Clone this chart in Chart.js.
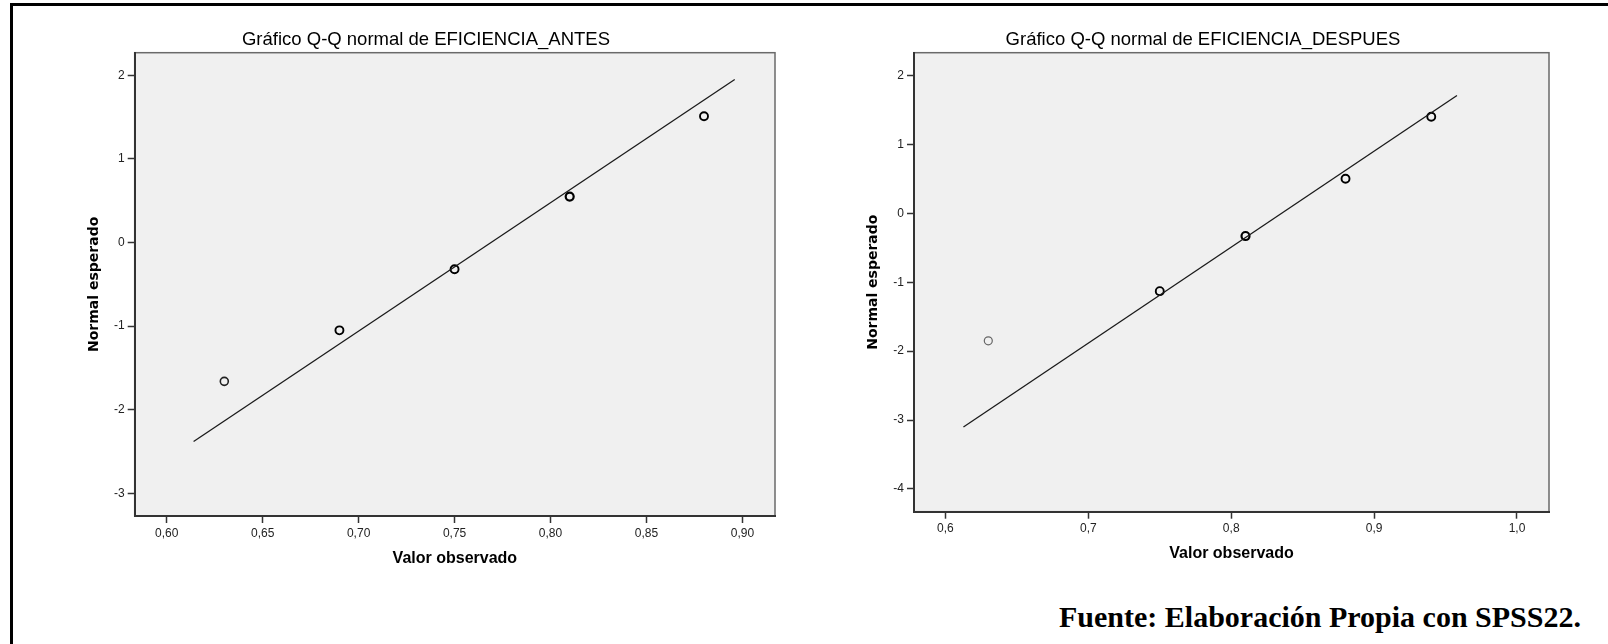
<!DOCTYPE html>
<html>
<head>
<meta charset="utf-8">
<script src="https://cdn.jsdelivr.net/npm/chart.js@4.4.1/dist/chart.umd.min.js"></script>
<style>
    body { margin: 0; background: #fff; width: 1608px; height: 644px; overflow: hidden; position: relative; }
    #marco { position: absolute; left: 10px; top: 3px; width: 1700px; height: 800px; border-top: 3px solid #000; border-left: 3px solid #000; }
    canvas { position: absolute; top: 0; }
    #qqAntes { left: 0; }
    #qqDespues { left: 779px; }
    #fuente { position: absolute; left: 1059px; top: 602px; font: bold 30px 'Liberation Serif', 'Times New Roman', serif; line-height: 30px; white-space: nowrap; color: #000; }
</style>
</head>
<body>
<div id="marco"></div>
<canvas id="qqAntes" width="800" height="600"></canvas>
<canvas id="qqDespues" width="800" height="600"></canvas>
<div id="fuente">Fuente: Elaboración Propia con SPSS22.</div>
<script>
// EFICIENCIA_ANTES
const antesObservado = [0.63, 0.69, 0.75, 0.81, 0.88];
const antesEsperado = [-1.66, -1.05, -0.32, 0.55, 1.51];
const antesRectaX = [0.614, 0.896];
const antesRectaY = [-2.38, 1.95];
const antesTicksX = [0.60, 0.65, 0.70, 0.75, 0.80, 0.85, 0.90];
const antesTicksY = [-3, -2, -1, 0, 1, 2];

// EFICIENCIA_DESPUES
const despuesObservado = [0.63, 0.75, 0.81, 0.88, 0.94];
const despuesEsperado = [-1.85, -1.13, -0.33, 0.50, 1.40];
const despuesRectaX = [0.6126, 0.958];
const despuesRectaY = [-3.10, 1.71];
const despuesTicksX = [0.6, 0.7, 0.8, 0.9, 1.0];
const despuesTicksY = [-4, -3, -2, -1, 0, 1, 2];

Chart.defaults.font.family = "'Liberation Sans', Arial, sans-serif";
Chart.defaults.color = '#222';

// Fondo gris y marco del área de trazado
const fondoPlot = {
    id: 'fondoPlot',
    beforeDraw(chart) {
        const { ctx, chartArea: a } = chart;
        ctx.save();
        ctx.fillStyle = '#f0f0f0';
        ctx.fillRect(a.left, a.top, a.width, a.height);
        ctx.strokeStyle = '#6a6a6a';
        ctx.lineWidth = 1.5;
        ctx.strokeRect(a.left, a.top, a.width, a.height);
        ctx.restore();
    }
};

function qqChart(id, cfg) {
    const ctx = document.getElementById(id).getContext('2d');
    const puntos = cfg.obs.map((x, i) => ({ x: x, y: cfg.esp[i] }));
    const recta = cfg.rectaX.map((x, i) => ({ x: x, y: cfg.rectaY[i] }));

    return new Chart(ctx, {
        type: 'scatter',
        data: {
            datasets: [{
                data: recta,
                showLine: true,
                borderColor: '#1a1a1a',
                borderWidth: 1.3,
                pointRadius: 0
            }, {
                data: puntos,
                pointRadius: 4,
                pointBorderWidth: cfg.grosor,
                pointBorderColor: cfg.colores,
                pointBackgroundColor: 'rgba(0,0,0,0)'
            }]
        },
        options: {
            responsive: false,
            animation: false,
            devicePixelRatio: 1,
            layout: { padding: { left: cfg.padL, right: cfg.padR, top: 0, bottom: cfg.padB } },
            plugins: {
                legend: { display: false },
                tooltip: { enabled: false },
                title: {
                    display: true,
                    text: cfg.titulo,
                    color: '#000',
                    font: { size: 18.5, weight: 'normal' },
                    padding: { top: 28.9, bottom: 1.6 }
                }
            },
            scales: {
                x: {
                    type: 'linear',
                    min: cfg.xMin,
                    max: cfg.xMax,
                    afterBuildTicks: s => { s.ticks = cfg.ticksX.map(v => ({ value: v })); },
                    afterFit: s => { s.height = cfg.altoX; },
                    ticks: {
                        autoSkip: false,
                        maxRotation: 0,
                        padding: 3,
                        font: { size: 12 },
                        callback: v => v.toFixed(cfg.decimales).replace('.', ',')
                    },
                    grid: { drawOnChartArea: false, drawTicks: true, tickLength: 7, tickColor: '#333', tickWidth: 1.5 },
                    border: { display: true, color: '#333', width: 2 },
                    title: {
                        display: true,
                        text: 'Valor observado',
                        color: '#000',
                        font: { size: 16, weight: 'bold' },
                        padding: { top: 0, bottom: 0 }
                    }
                },
                y: {
                    type: 'linear',
                    min: cfg.yMin,
                    max: cfg.yMax,
                    afterBuildTicks: s => { s.ticks = cfg.ticksY.map(v => ({ value: v })); },
                    afterFit: s => { s.width = cfg.anchoY; },
                    ticks: {
                        autoSkip: false,
                        padding: 3,
                        font: { size: 12 },
                        callback: v => String(v)
                    },
                    grid: { drawOnChartArea: false, drawTicks: true, tickLength: 7, tickColor: '#333', tickWidth: 1.5 },
                    border: { display: true, color: '#333', width: 2 },
                    title: {
                        display: true,
                        text: 'Normal esperado',
                        color: '#000',
                        font: { family: "'DejaVu Sans', Verdana, sans-serif", size: 14, weight: 'bold' },
                        padding: { top: cfg.offsetTituloY, bottom: 0 }
                    }
                }
            }
        },
        plugins: [fondoPlot]
    });
}

document.addEventListener('DOMContentLoaded', function () {
    qqChart('qqAntes', {
        titulo: 'Gráfico Q-Q normal de EFICIENCIA_ANTES',
        obs: antesObservado, esp: antesEsperado,
        rectaX: antesRectaX, rectaY: antesRectaY,
        ticksX: antesTicksX, ticksY: antesTicksY,
        xMin: 0.5833, xMax: 0.917, yMin: -3.27, yMax: 2.27,
        decimales: 2,
        colores: ['#222', '#000', '#000', '#000', '#000'],
        grosor: [1.6, 1.9, 1.9, 2.2, 1.9],
        padL: 77, padR: 25, padB: 31.4,
        anchoY: 57.7, altoX: 52.6, offsetTituloY: 8.6
    });

    qqChart('qqDespues', {
        titulo: 'Gráfico Q-Q normal de EFICIENCIA_DESPUES',
        obs: despuesObservado, esp: despuesEsperado,
        rectaX: despuesRectaX, rectaY: despuesRectaY,
        ticksX: despuesTicksX, ticksY: despuesTicksY,
        xMin: 0.578, xMax: 1.0224, yMin: -4.33, yMax: 2.33,
        decimales: 1,
        colores: ['#666', '#000', '#000', '#000', '#000'],
        grosor: [1.2, 1.9, 2.2, 1.9, 1.9],
        padL: 78, padR: 30, padB: 36.4,
        anchoY: 57, altoX: 51.9, offsetTituloY: 7.6
    });
});
</script>
</body>
</html>
